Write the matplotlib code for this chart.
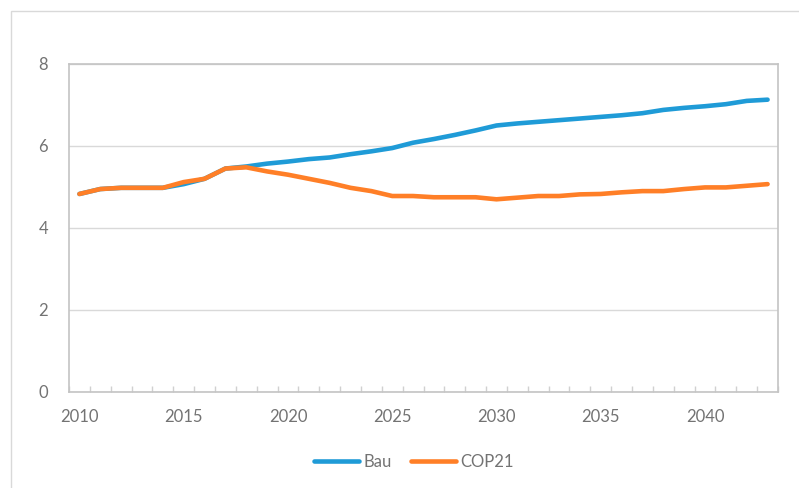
import matplotlib
matplotlib.use("Agg")
import matplotlib.pyplot as plt
from matplotlib.patches import Rectangle
import numpy as np

# data
years = list(range(2010, 2044))
bau = [4.83, 4.95, 4.98, 4.98, 4.98, 5.07, 5.20, 5.45, 5.50, 5.57,
       5.62, 5.68, 5.72, 5.80, 5.87, 5.95, 6.08, 6.17, 6.27, 6.38,
       6.50, 6.55, 6.59, 6.63, 6.67, 6.71, 6.75, 6.80, 6.88, 6.93,
       6.97, 7.02, 7.10, 7.13]
cop21 = [4.83, 4.95, 4.98, 4.98, 4.98, 5.12, 5.20, 5.45, 5.48, 5.38,
         5.30, 5.20, 5.10, 4.98, 4.90, 4.78, 4.78, 4.75, 4.75, 4.75,
         4.70, 4.74, 4.78, 4.78, 4.82, 4.83, 4.87, 4.90, 4.90, 4.95,
         4.99, 4.99, 5.03, 5.07]
y_ticks = [0, 2, 4, 6, 8]

blue = "#1F9BD7"
orange = "#FF7F27"
grey_txt = "#737373"

plt.rcParams['font.family'] = ['Lato', 'DejaVu Sans']

fig = plt.figure(figsize=(7.99, 4.88), dpi=100)
ax = fig.add_axes([69/799, 1 - 392/488, (778-69)/799, (392-64)/488])

x = np.arange(len(years))
ax.plot(x, bau, color=blue, lw=3.3, solid_capstyle='round', label="Bau", zorder=3)
ax.plot(x, cop21, color=orange, lw=3.3, solid_capstyle='round', label="COP21", zorder=4)

ax.set_xlim(-0.5, len(years) - 0.5)
ax.set_ylim(0, 8)

major = [i for i, yr in enumerate(years) if yr % 5 == 0]
ax.set_xticks(major)
ax.set_xticklabels([str(years[i]) for i in major])
ax.set_xticks(np.arange(-0.5, len(years)), minor=True)
ax.tick_params(axis='x', which='major', length=0, pad=12, labelsize=12, labelcolor=grey_txt)
ax.tick_params(axis='x', which='minor', direction='in', length=4, color='#d0d0d0', width=1)

ax.set_yticks(y_ticks)
ax.tick_params(axis='y', length=0, pad=15, labelsize=12, labelcolor=grey_txt)
ax.yaxis.grid(True, color='#d9d9d9', lw=1)
ax.set_axisbelow(True)

for s in ax.spines.values():
    s.set_color('#c4c4c4')
    s.set_linewidth(1.2)

leg = fig.legend(loc='center', bbox_to_anchor=(414/799, 1 - 462/488), ncol=2,
                 frameon=False, fontsize=12, handlelength=2.7, handletextpad=0.3,
                 columnspacing=1.1)
for t in leg.get_texts():
    t.set_color(grey_txt)

# outer chart border
fig.patches.append(Rectangle((11/799, -0.1), 1.0, (488-11)/488 + 0.1,
                             transform=fig.transFigure, fill=False,
                             ec='#d9d9d9', lw=1))

fig.savefig("out.png", dpi=100)
